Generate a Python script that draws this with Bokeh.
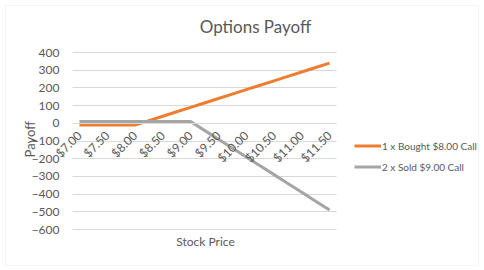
from bokeh.plotting import figure
from bokeh.models import (ColumnDataSource, FixedTicker, Legend, LegendItem, Label,
                          BoxAnnotation, Range1d, Grid)
from bokeh.embed import file_html
from bokeh.resources import INLINE
import math

# ---- data ----
prices = [7.00, 7.25, 7.50, 7.75, 8.00, 8.25, 8.50, 8.75, 9.00, 9.25,
          9.50, 9.75, 10.00, 10.25, 10.50, 10.75, 11.00, 11.25, 11.50]
bought_800_call = [-10, -10, -10, -10, -10, 15, 40, 65, 90, 115,
                   140, 165, 190, 215, 240, 265, 290, 315, 340]
sold_900_call_x2 = [10, 10, 10, 10, 10, 10, 10, 10, 10, -40,
                    -90, -140, -190, -240, -290, -340, -390, -440, -490]
x_tick_values = [7.0, 7.5, 8.0, 8.5, 9.0, 9.5, 10.0, 10.5, 11.0, 11.5]
x_tick_labels = ["$7.00", "$7.50", "$8.00", "$8.50", "$9.00", "$9.50",
                 "$10.00", "$10.50", "$11.00", "$11.50"]
y_tick_values = [-600, -500, -400, -300, -200, -100, 0, 100, 200, 300, 400]
series_names = ["1 x Bought $8.00 Call", "2 x Sold $9.00 Call"]
chart_title = "Options Payoff"
x_title = "Stock Price"
y_title = "Payoff"

FONT = "Lato"
TXT = "#595959"
GRID = "#D9D9D9"

# plot-area extents (category band edges and value-axis limits)
X_LO, X_HI = 6.875, 11.625
Y_LO, Y_HI = -600, 400

src = ColumnDataSource(dict(x=prices, b=bought_800_call, s=sold_900_call_x2))

# frame covers the whole canvas; the plot area sits inside it
p = figure(width=484, height=270, output_backend="svg", toolbar_location=None,
           x_range=Range1d(5.5795, 14.2879), y_range=Range1d(-831.6, 693.8),
           min_border=0, min_border_left=0, min_border_right=0,
           min_border_top=0, min_border_bottom=0)
p.outline_line_color = None
p.background_fill_color = "white"
p.border_fill_color = "white"

# chart border
p.add_layout(BoxAnnotation(left=5.6695, right=14.1797, top=665.5, bottom=-803.4,
                           fill_alpha=0, line_color=GRID, line_width=1))

# grid
p.xgrid.grid_line_color = None
p.ygrid.ticker = FixedTicker(ticks=y_tick_values)
p.ygrid.grid_line_color = GRID
if "cross_bounds" in Grid.properties():
    p.ygrid.cross_bounds = (X_LO, X_HI)
    p.ygrid.bounds = (Y_LO, Y_HI)

# y axis
p.yaxis.fixed_location = X_LO
p.yaxis.bounds = (Y_LO, Y_HI)
p.yaxis.ticker = FixedTicker(ticks=y_tick_values)
p.yaxis.axis_line_color = None
p.yaxis.major_tick_line_color = None
p.yaxis.minor_tick_line_color = None
p.yaxis.major_label_text_font = FONT
p.yaxis.major_label_text_font_size = "12px"
p.yaxis.major_label_text_color = TXT
p.yaxis.major_label_standoff = 7

# x axis at y = 0
p.xaxis.fixed_location = 0
p.xaxis.bounds = (X_LO, X_HI)
p.xaxis.ticker = FixedTicker(ticks=x_tick_values)
p.xaxis.major_label_overrides = {v: l for v, l in zip(x_tick_values, x_tick_labels)}
p.xaxis.major_label_orientation = math.pi / 4
p.xaxis.axis_line_color = GRID
p.xaxis.major_tick_line_color = None
p.xaxis.minor_tick_line_color = None
p.xaxis.major_label_text_font = FONT
p.xaxis.major_label_text_font_size = "12px"
p.xaxis.major_label_text_color = TXT
p.xaxis.major_label_standoff = 4

r1 = p.line("x", "b", source=src, line_color="#ED7D31", line_width=3)
r2 = p.line("x", "s", source=src, line_color="#A5A5A5", line_width=3)

legend = Legend(items=[LegendItem(label=series_names[0], renderers=[r1]),
                       LegendItem(label=series_names[1], renderers=[r2])],
                location=(354, 93))
legend.border_line_color = None
legend.background_fill_alpha = 0
legend.padding = 0
legend.margin = 0
legend.spacing = 0
legend.glyph_width = 27
legend.glyph_height = 21
legend.label_height = 21
legend.label_standoff = 1
legend.label_text_font = FONT
legend.label_text_font_size = "10px"
legend.label_text_color = TXT
p.add_layout(legend)

p.add_layout(Label(x=10.168, y=547, text=chart_title, text_font=FONT,
                   text_font_size="17px", text_color=TXT, text_align="center",
                   text_baseline="middle"))
p.add_layout(Label(x=9.268, y=-668, text=x_title, text_font=FONT,
                   text_font_size="12px", text_color=TXT, text_align="center",
                   text_baseline="middle"))
p.add_layout(Label(x=6.119, y=-193, text=y_title, text_font=FONT,
                   text_font_size="13px", text_color=TXT, text_align="left",
                   text_baseline="middle", angle=math.pi / 2))

open("out.html", "w").write(file_html(p, INLINE))
